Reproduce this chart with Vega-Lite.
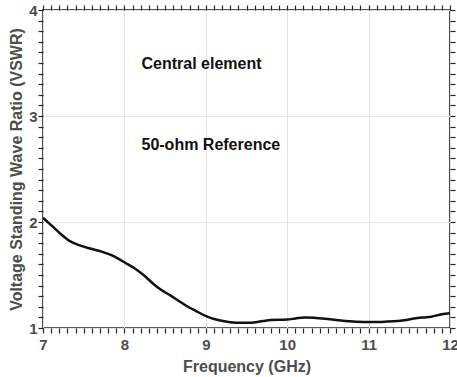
{
  "$schema": "https://vega.github.io/schema/vega-lite/v6.json",
  "width": 407,
  "height": 318,
  "autosize": {"type": "none"},
  "padding": {"left": 43, "top": 10, "right": 7, "bottom": 49},
  "background": "white",
  "config": {
    "view": {"stroke": "#262626", "strokeWidth": 1.6},
    "axis": {"labelFont": "Liberation Sans", "titleFont": "Liberation Sans", "labelFontWeight": "bold", "titleFontWeight": "bold", "labelColor": "#4d4d4d", "titleColor": "#4d4d4d", "tickColor": "#262626", "tickWidth": 1.2, "gridColor": "#e3e3e3", "gridWidth": 1, "domain": false, "tickSize": 5}
  },
  "layer": [
    {
      "data": {"values": [
        {"f": 7.0, "v": 2.04}, {"f": 7.1, "v": 1.97}, {"f": 7.2, "v": 1.9}, {"f": 7.33, "v": 1.82},
        {"f": 7.45, "v": 1.78}, {"f": 7.58, "v": 1.75}, {"f": 7.72, "v": 1.72}, {"f": 7.86, "v": 1.68},
        {"f": 8.0, "v": 1.62}, {"f": 8.15, "v": 1.55}, {"f": 8.25, "v": 1.49}, {"f": 8.35, "v": 1.42},
        {"f": 8.45, "v": 1.36}, {"f": 8.56, "v": 1.31}, {"f": 8.66, "v": 1.26}, {"f": 8.76, "v": 1.21},
        {"f": 8.88, "v": 1.16}, {"f": 9.01, "v": 1.11}, {"f": 9.15, "v": 1.075}, {"f": 9.3, "v": 1.055},
        {"f": 9.45, "v": 1.05}, {"f": 9.55, "v": 1.05}, {"f": 9.7, "v": 1.065}, {"f": 9.8, "v": 1.075},
        {"f": 10.0, "v": 1.08}, {"f": 10.1, "v": 1.09}, {"f": 10.21, "v": 1.1}, {"f": 10.35, "v": 1.095},
        {"f": 10.5, "v": 1.085}, {"f": 10.6, "v": 1.075}, {"f": 10.71, "v": 1.066}, {"f": 10.85, "v": 1.06},
        {"f": 11.03, "v": 1.057}, {"f": 11.2, "v": 1.06}, {"f": 11.36, "v": 1.066}, {"f": 11.46, "v": 1.075},
        {"f": 11.56, "v": 1.09}, {"f": 11.67, "v": 1.1}, {"f": 11.77, "v": 1.107}, {"f": 11.9, "v": 1.13},
        {"f": 12.0, "v": 1.14}
      ]},
      "mark": {"type": "line", "color": "#111111", "strokeWidth": 2.5, "interpolate": "monotone", "clip": true},
      "encoding": {
        "x": {"field": "f", "type": "quantitative", "scale": {"domain": [7, 12], "nice": false, "zero": false},
          "axis": {"orient": "bottom", "title": "Frequency (GHz)", "titleFontSize": 16, "titlePadding": 6,
            "values": [7,7.1,7.2,7.3,7.4,7.5,7.6,7.7,7.8,7.9,8,8.1,8.2,8.3,8.4,8.5,8.6,8.7,8.8,8.9,9,9.1,9.2,9.3,9.4,9.5,9.6,9.7,9.8,9.9,10,10.1,10.2,10.3,10.4,10.5,10.6,10.7,10.8,10.9,11,11.1,11.2,11.3,11.4,11.5,11.6,11.7,11.8,11.9,12],
            "labelExpr": "abs(datum.value - round(datum.value)) < 0.01 ? format(datum.value, 'd') : ''",
            "labelFontSize": 15, "labelFlush": false, "labelOverlap": false, "labelPadding": 4,
            "grid": true,
            "gridOpacity": {"condition": {"test": "abs(datum.value - round(datum.value)) < 0.01", "value": 1}, "value": 0},
            "encode": {"ticks": {"update": {"y2": {"signal": "abs(datum.value - round(datum.value)) < 0.01 ? -6 : -3"}}}}}},
        "y": {"field": "v", "type": "quantitative", "scale": {"domain": [1, 4], "nice": false, "zero": false},
          "axis": {"orient": "left", "title": "Voltage Standing Wave Ratio (VSWR)", "titleFontSize": 16, "titlePadding": 4,
            "values": [1,1.1,1.2,1.3,1.4,1.5,1.6,1.7,1.8,1.9,2,2.1,2.2,2.3,2.4,2.5,2.6,2.7,2.8,2.9,3,3.1,3.2,3.3,3.4,3.5,3.6,3.7,3.8,3.9,4],
            "labelExpr": "abs(datum.value - round(datum.value)) < 0.01 ? format(datum.value, 'd') : ''",
            "labelFontSize": 15, "labelFlush": false, "labelOverlap": false, "labelPadding": 1,
            "grid": true,
            "gridOpacity": {"condition": {"test": "abs(datum.value - round(datum.value)) < 0.01", "value": 1}, "value": 0},
            "encode": {"ticks": {"update": {"x2": {"signal": "abs(datum.value - round(datum.value)) < 0.01 ? 6 : 3"}}}}}}
      }
    },
    {
      "data": {"values": [
        {"f": 8.21, "v": 3.49, "label": "Central element"},
        {"f": 8.21, "v": 2.73, "label": "50-ohm Reference"}
      ]},
      "mark": {"type": "text", "align": "left", "baseline": "middle", "font": "Liberation Sans", "fontWeight": "bold", "fontSize": 16, "color": "#111111"},
      "encoding": {
        "x": {"field": "f", "type": "quantitative",
          "axis": {"orient": "top", "title": null, "labels": false, "grid": false,
            "values": [7,7.1,7.2,7.3,7.4,7.5,7.6,7.7,7.8,7.9,8,8.1,8.2,8.3,8.4,8.5,8.6,8.7,8.8,8.9,9,9.1,9.2,9.3,9.4,9.5,9.6,9.7,9.8,9.9,10,10.1,10.2,10.3,10.4,10.5,10.6,10.7,10.8,10.9,11,11.1,11.2,11.3,11.4,11.5,11.6,11.7,11.8,11.9,12],
            "encode": {"ticks": {"update": {"y2": {"signal": "abs(datum.value - round(datum.value)) < 0.01 ? 6 : 3"}}}}}},
        "y": {"field": "v", "type": "quantitative",
          "axis": {"orient": "right", "title": null, "labels": false, "grid": false,
            "values": [1,1.1,1.2,1.3,1.4,1.5,1.6,1.7,1.8,1.9,2,2.1,2.2,2.3,2.4,2.5,2.6,2.7,2.8,2.9,3,3.1,3.2,3.3,3.4,3.5,3.6,3.7,3.8,3.9,4],
            "encode": {"ticks": {"update": {"x2": {"signal": "abs(datum.value - round(datum.value)) < 0.01 ? -6 : -3"}}}}}},
        "text": {"field": "label", "type": "nominal"}
      }
    }
  ],
  "resolve": {"axis": {"x": "independent", "y": "independent"}}
}
